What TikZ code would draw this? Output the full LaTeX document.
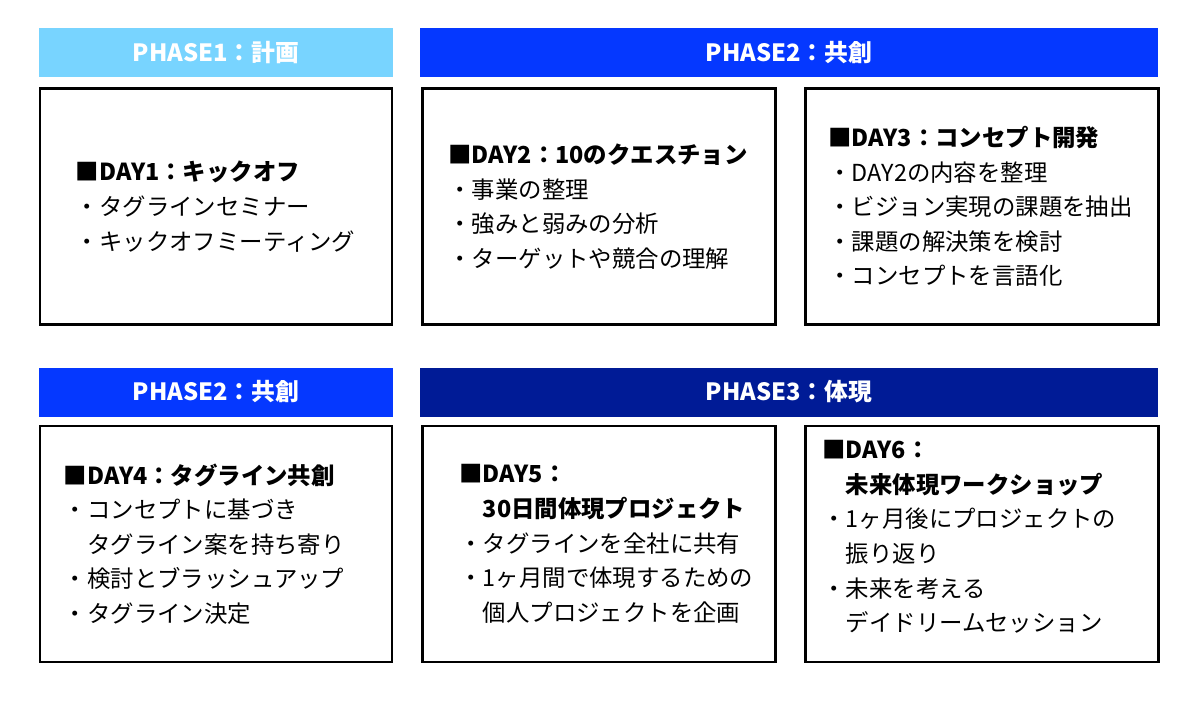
\documentclass[tikz,border=0pt]{standalone}
\usepackage{fontspec}
\setmainfont{Noto Sans CJK JP}
\usetikzlibrary{positioning}
\definecolor{phaseone}{RGB}{120,212,255}
\definecolor{phasetwo}{RGB}{5,56,255}
\definecolor{phasethree}{RGB}{0,27,150}
\tikzset{
  phase/.style={text=white, font=\bfseries\fontsize{23.8}{28}\selectfont,
    minimum height=49pt, inner sep=0pt},
  day/.style={draw=black, line width=2.5pt, minimum height=236pt, inner sep=0pt},
  daytext/.style={anchor=west, align=left, inner sep=0pt,
    font=\fontsize{23.4}{34.6}\selectfont}
}
\newcommand\phasebar[5]{% name, centre, width, colour, label
  \node[phase, fill=#4, minimum width=#3] (#1) at (#2) {#5};}
\newcommand\daybox[6]{% name, centre, width, inset, extra, text
  \node[day, minimum width=#3] (#1) at (#2) {};
  \node[daytext, right=#4 of #1.west, #5] (#1-txt) {#6};}

\begin{document}
\begin{tikzpicture}[x=1pt,y=-1pt]
  \useasboundingbox (0,0) rectangle (1200,706);
  % first row
  \phasebar{ph1}{216,52.5}{354pt}{phaseone}{PHASE1：計画}
  \phasebar{ph2}{789,52.5}{738pt}{phasetwo}{PHASE2：共創}
  \daybox{d1}{216,206.5}{352pt}{37pt}{}{\textbf{■DAY1：キックオフ}\\・タグラインセミナー\\・キックオフミーティング}
  \daybox{d2}{599,206.5}{353pt}{27pt}{}{\textbf{■DAY2：10のクエスチョン}\\・事業の整理\\・強みと弱みの分析\\・ターゲットや競合の理解}
  \daybox{d3}{982,206.5}{353pt}{24pt}{}{\textbf{■DAY3：コンセプト開発}\\・DAY2の内容を整理\\・ビジョン実現の課題を抽出\\・課題の解決策を検討\\・コンセプトを言語化}
  % second row
  \phasebar{ph4}{216,392}{354pt}{phasetwo}{PHASE2：共創}
  \phasebar{ph5}{789,392}{738pt}{phasethree}{PHASE3：体現}
  \daybox{d4}{216,544}{352pt}{25pt}{}{\textbf{■DAY4：タグライン共創}\\・コンセプトに基づき\\\phantom{・}タグライン案を持ち寄り\\・検討とブラッシュアップ\\・タグライン決定}
  \daybox{d5}{599,544}{353pt}{38pt}{}{\textbf{■DAY5：}\\\textbf{\phantom{■}30日間体現プロジェクト}\\・タグラインを全社に共有\\・1ヶ月間で体現するための\\\phantom{・}個人プロジェクトを企画}
  \daybox{d6}{982,544}{353pt}{18pt}{yshift=7pt}{\textbf{■DAY6：}\\\textbf{\phantom{■}未来体現ワークショップ}\\・1ヶ月後にプロジェクトの\\\phantom{・}振り返り\\・未来を考える\\\phantom{・}デイドリームセッション}
\end{tikzpicture}
\end{document}
